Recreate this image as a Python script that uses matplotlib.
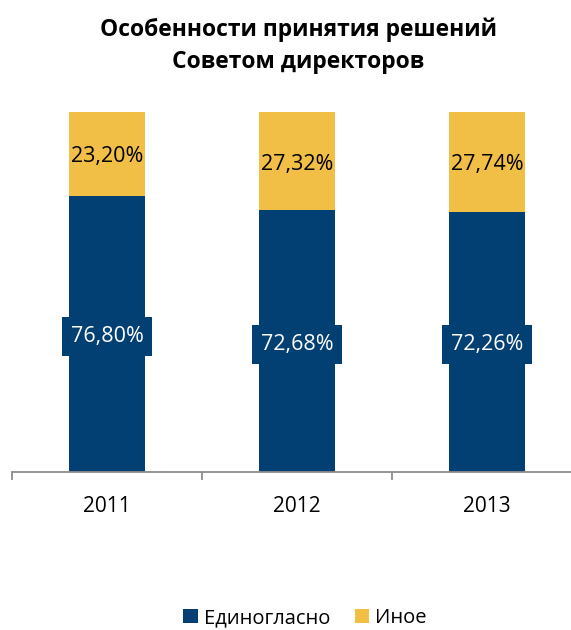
import matplotlib
matplotlib.use("Agg")
import matplotlib.pyplot as plt
from matplotlib.patches import Patch
from matplotlib.transforms import offset_copy

years = ["2011", "2012", "2013"]
unanimous = [76.80, 72.68, 72.26]
other = [23.20, 27.32, 27.74]
series_names = ["Единогласно", "Иное"]
title_lines = ["Особенности принятия решений", "Советом директоров"]

BLUE = "#023F73"
YELLOW = "#F1BE46"
FONT = ["Open Sans", "DejaVu Sans"]
plt.rcParams["font.family"] = FONT

W, H = 571, 630
fig = plt.figure(figsize=(W / 100, H / 100), dpi=100)

x0, x1 = 12, 571
y_bot, y_top = 472, 112
ax = fig.add_axes([x0 / W, 1 - y_bot / H, (x1 - x0) / W, (y_bot - y_top) / H])
cat_w = 190

xs = list(range(len(years)))
ax.bar(xs, unanimous, width=0.4, color=BLUE, zorder=2)
ax.bar(xs, other, width=0.4, bottom=unanimous, color=YELLOW, zorder=2)

def fmt(v):
    return f"{v:.2f}".replace(".", ",") + "%"

lbl_tr = offset_copy(ax.transData, fig=fig, x=0, y=-3, units="dots")
for x, u, o in zip(xs, unanimous, other):
    ax.text(x, u / 2, fmt(u), ha="center", va="center", color="white",
            fontsize=15.5, zorder=3, transform=lbl_tr,
            bbox=dict(boxstyle="square,pad=0.42", facecolor=BLUE, edgecolor="none"))
    ax.text(x, u + o / 2, fmt(o), ha="center", va="center", color="black",
            fontsize=15.5, zorder=3, transform=lbl_tr)

for s in ["left", "right", "top"]:
    ax.spines[s].set_visible(False)
ax.spines["bottom"].set_color("#8C8C8C")
ax.spines["bottom"].set_linewidth(1.3)
ax.set_yticks([])
ax.set_xticks([-0.5, 0.5, 1.5, 2.5])
ax.set_xticklabels([])
ax.tick_params(axis="x", which="major", length=6, width=1.3, color="#8C8C8C", direction="out")
ax.set_xticks(xs, minor=True)
ax.set_xticklabels(years, minor=True, fontsize=15)
ax.tick_params(axis="x", which="minor", length=0, pad=17)
ax.set_xlim(-0.5, -0.5 + (x1 - x0) / cat_w)
ax.set_ylim(0, 100)

fig.text(298 / W, 1 - 30 / H, title_lines[0], ha="center", va="center",
         fontsize=16.5, fontweight="bold")
fig.text(298 / W, 1 - 62 / H, title_lines[1], ha="center", va="center",
         fontsize=16.5, fontweight="bold")

handles = [Patch(facecolor=BLUE), Patch(facecolor=YELLOW)]
fig.legend(handles, series_names, loc="center", bbox_to_anchor=(305 / W, 1 - 618 / H),
           ncol=2, frameon=False, fontsize=14.5, handlelength=0.74, handleheight=0.74,
           handletextpad=0.3, columnspacing=1.2, borderpad=0.2)

fig.savefig("out.png", dpi=100)
